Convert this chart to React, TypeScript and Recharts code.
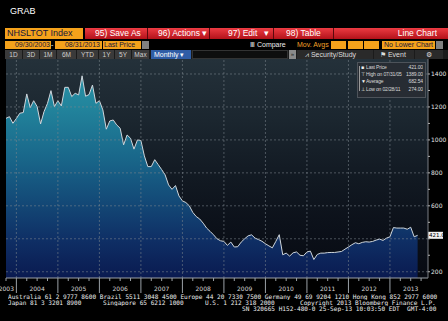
import React from "react";
import { AreaChart, Area, XAxis, YAxis, ReferenceLine } from "recharts";

// NHSLTOT Index, monthly, Sep 2003 .. Aug 2013 (thousands, SAAR)
const startYear = 2003;
const startMonth = 9;
const sales = [
  1131, 1141, 1101, 1130,
  1162, 1166, 1279, 1196, 1238, 1202, 1097, 1172, 1222, 1299, 1202, 1238,
  1206, 1319, 1319, 1263, 1283, 1273, 1389, 1265, 1275, 1333, 1222, 1238,
  1182, 1065, 1115, 1121, 1091, 1071, 970, 1030, 1010, 944, 1000, 996,
  903, 838, 838, 880, 850, 820, 788, 727, 700, 723, 660, 630,
  620, 600, 560, 535, 520, 495, 465, 445, 424, 400, 388, 384,
  360, 380, 350, 352, 380, 400, 418, 424, 404, 395, 385, 370,
  357, 345, 384, 425, 303, 313, 295, 315, 320, 300, 297, 320,
  325, 274, 305, 313, 313, 316, 317, 317, 320, 323, 337, 350,
  364, 376, 370, 378, 382, 380, 384, 392, 398, 390, 404, 412,
  468, 465, 465, 465, 458, 470, 412, 421,
];
const yTicks = [200, 300, 400, 500, 600, 700, 800, 900, 1000, 1100, 1200, 1300, 1400];
const gridValues = [200, 400, 600, 800, 1000, 1200, 1400];
const legendRows = [
  { icon: "■", label: "Last Price", value: "421.00" },
  { icon: "⊤", label: "High on 07/31/05", value: "1389.00" },
  { icon: "▼", label: "Average", value: "682.54" },
  { icon: "⊥", label: "Low on 02/28/11", value: "274.00" },
];
const rangeButtons = [
  { t: "1D", l: 5, w: 17 },
  { t: "3D", l: 23, w: 16 },
  { t: "1M", l: 40, w: 16 },
  { t: "6M", l: 57, w: 19 },
  { t: "YTD", l: 77, w: 21 },
  { t: "1Y", l: 99, w: 15 },
  { t: "5Y", l: 115, w: 16 },
  { t: "Max", l: 132, w: 17 },
];
const footer1 = "Australia 61 2 9777 8600 Brazil 5511 3048 4500 Europe 44 20 7330 7500 Germany 49 69 9204 1210 Hong Kong 852 2977 6000";
const footer2 = [
  { t: "Japan 81 3 3201 8900", l: 8 },
  { t: "Singapore 65 6212 1000", l: 103 },
  { t: "U.S. 1 212 318 2000", l: 205 },
  { t: "Copyright 2013 Bloomberg Finance L.P.", l: 300 },
];
const footer3 = "SN 320665 H152-480-0 25-Sep-13 10:03:50 EDT  GMT-4:00";

const monthOf = (i: number) => ((startMonth - 1 + i) % 12) + 1;
const yearOf = (i: number) => startYear + Math.floor((startMonth - 1 + i) / 12);

const data = sales.map((v, i) => ({ i, month: `${yearOf(i)}-${monthOf(i)}`, v }));
const last = sales[sales.length - 1];
const xTicks = Array.from({ length: 41 }, (_, k) => k * 3);
const yearEnds = data.filter((d) => monthOf(d.i) === 12).map((d) => d.i);

const XTick = (props: any) => {
  const { x, y, payload } = props;
  const i = payload.value as number;
  const m = monthOf(i);
  const label = i === 0 ? String(yearOf(0)) : m === 6 ? String(yearOf(i)) : null;
  return (
    <g>
      <line x1={x} x2={x} y1={y} y2={y + (m === 12 ? 15 : 3)} stroke="#9aa0a6" strokeWidth={1} />
      {label && (
        <text x={i === 0 ? x + 8 : x} y={y + 13} textAnchor={i === 0 ? "end" : "middle"} fontSize={6} fill="#d8d8d8" fontFamily="DejaVu Sans">
          {label}
        </text>
      )}
    </g>
  );
};

const LastLabel = (p: any) => {
  const vb = p.viewBox;
  const x = vb.x + vb.width;
  return (
    <g>
      <rect x={x} y={vb.y - 3.5} width={15} height={7} fill="#f2f2f2" />
      <text x={x + 1} y={vb.y + 2} fontSize={5.5} fill="#000" fontFamily="DejaVu Sans">
        {last.toFixed(2)}
      </text>
    </g>
  );
};

const Abs = ({ l, t, w, h, style, children }: any) => (
  <div style={{ position: "absolute", left: l, top: t, width: w, height: h, boxSizing: "border-box", whiteSpace: "pre", overflow: "hidden", ...style }}>
    {children}
  </div>
);

const orange = "#f5a21b";
const sans = "'Liberation Sans', Arial, sans-serif";
const legendText = { color: "#d8d8d8", fontSize: 5, lineHeight: "7px", letterSpacing: -0.15 };

export default function App() {
  return (
    <div style={{ position: "absolute", left: 0, top: 0, width: 448, height: 321, background: "#000", overflow: "hidden", fontFamily: sans }}>
      <Abs l={10} t={5} w={40} h={12} style={{ color: "#fff", fontSize: 9, lineHeight: "12px" }}>GRAB</Abs>

      {/* row 1 */}
      <Abs l={5} t={28} w={78} h={11} style={{ background: orange, color: "#15153a", fontSize: 9, lineHeight: "11px", paddingLeft: 2 }}>NHSLTOT Index</Abs>
      <Abs l={85} t={28} w={363} h={11} style={{ background: "linear-gradient(#ec3b42,#b3121a)" }} />
      {[147, 209, 273, 333].map((x) => (
        <Abs key={x} l={x} t={28} w={1} h={11} style={{ background: "#5a080c" }} />
      ))}
      {[
        { t: "95) Save As", l: 95 },
        { t: "96) Actions ▾", l: 158 },
        { t: "97) Edit   ▾", l: 228 },
        { t: "98) Table", l: 286 },
      ].map((b) => (
        <Abs key={b.t} l={b.l} t={28} w={60} h={11} style={{ color: "#fff", fontSize: 8.5, lineHeight: "11px" }}>{b.t}</Abs>
      ))}
      <Abs l={380} t={28} w={57} h={11} style={{ color: "#fff", fontSize: 8.5, lineHeight: "11px", textAlign: "right" }}>Line Chart</Abs>

      {/* row 2 */}
      <Abs l={5} t={41} w={46} h={8} style={{ background: orange, color: "#15153a", fontSize: 7, lineHeight: "8px", textAlign: "right", paddingRight: 1 }}>09/30/2003</Abs>
      <Abs l={51} t={41} w={4} h={8} style={{ color: "#fff", fontSize: 7, lineHeight: "8px" }}>-</Abs>
      <Abs l={55} t={41} w={47} h={8} style={{ background: orange, color: "#15153a", fontSize: 7, lineHeight: "8px", textAlign: "right", paddingRight: 2 }}>08/31/2013</Abs>
      <Abs l={103} t={41} w={38} h={8} style={{ background: orange, color: "#15153a", fontSize: 7, lineHeight: "8px", paddingLeft: 1 }}>Last Price</Abs>
      <Abs l={142} t={41} w={7} h={8} style={{ background: "#808080" }} />
      <Abs l={250} t={41} w={40} h={8} style={{ color: "#eee", fontSize: 7, lineHeight: "8px" }}>Ⅲ Compare</Abs>
      <Abs l={297} t={41} w={33} h={8} style={{ color: "#f0a028", fontSize: 7, lineHeight: "8px" }}>Mov. Avgs</Abs>
      {[331, 348, 364].map((x) => (
        <Abs key={x} l={x} t={41} w={16} h={8} style={{ background: orange, borderRight: "1px solid #000" }} />
      ))}
      <Abs l={382} t={41} w={53} h={8} style={{ background: orange, color: "#15153a", fontSize: 7, lineHeight: "8px", paddingLeft: 2 }}>No Lower Chart</Abs>
      <Abs l={436} t={41} w={7} h={8} style={{ background: "#808080" }} />

      {/* row 3 */}
      <Abs l={5} t={50} w={443} h={9} style={{ background: "#1b1b1b" }} />
      {rangeButtons.map((b) => (
        <Abs key={b.t} l={b.l} t={50} w={b.w} h={9} style={{ background: "#3a3a3a", color: "#cfcfcf", fontSize: 6.5, lineHeight: "9px", textAlign: "center" }}>{b.t}</Abs>
      ))}
      <Abs l={151} t={50} w={40} h={9} style={{ background: "#2f5da6", color: "#fff", fontSize: 7, lineHeight: "9px", paddingLeft: 3 }}>Monthly ▾</Abs>
      <Abs l={192} t={50} w={96} h={9} style={{ background: "#0e0e0e", border: "1px solid #333" }} />
      <Abs l={289} t={50} w={7} h={9} style={{ background: "#8a8a8a", color: "#222", fontSize: 6, lineHeight: "9px", textAlign: "center" }}>»</Abs>
      <Abs l={297} t={50} w={76} h={9} style={{ background: "#2a2a2a", color: "#ddd", fontSize: 7, lineHeight: "9px", paddingLeft: 8 }}>⩘ Security/Study</Abs>
      <Abs l={374} t={50} w={40} h={9} style={{ background: "#2a2a2a", color: "#ddd", fontSize: 7, lineHeight: "9px", paddingLeft: 6 }}>⚑ Event</Abs>
      <Abs l={415} t={50} w={28} h={9} style={{ background: "#2a2a2a", color: "#ddd", fontSize: 7, lineHeight: "9px", textAlign: "center" }}>⚙</Abs>

      {/* plot background */}
      <Abs l={6} t={59} w={422} h={219} style={{ background: "linear-gradient(#24313a 0%, #1b262f 28%, #131b24 50%, #0c111a 75%, #070a12 100%)" }} />

      <div style={{ position: "absolute", left: 0, top: 0 }}>
        <AreaChart width={448} height={300} data={data} margin={{ top: 59, right: 0, bottom: 0, left: 6 }}>
          <defs>
            <linearGradient id="nhsFill" gradientUnits="userSpaceOnUse" x1="0" y1="59" x2="0" y2="278">
              <stop offset="0%" stopColor="#2c98aa" />
              <stop offset="22%" stopColor="#22849c" />
              <stop offset="45%" stopColor="#19678a" />
              <stop offset="62%" stopColor="#144e7a" />
              <stop offset="82%" stopColor="#0f3066" />
              <stop offset="100%" stopColor="#0a1a50" />
            </linearGradient>
          </defs>
          <XAxis
            dataKey="i"
            type="number"
            domain={[0, 122]}
            ticks={xTicks}
            interval={0}
            height={22}
            tickSize={0}
            tickMargin={0}
            tickLine={false}
            tick={<XTick />}
            axisLine={{ stroke: "#9aa0a6" }}
          />
          <YAxis
            orientation="right"
            type="number"
            domain={[162, 1491]}
            ticks={yTicks}
            interval={0}
            width={20}
            tickSize={2}
            tickMargin={1}
            tickLine={{ stroke: "#b0b0b0" }}
            axisLine={{ stroke: "#7a7f85" }}
            tick={{ fontSize: 6, fill: "#e6e6e6", fontFamily: "DejaVu Sans" }}
            tickFormatter={(v: number) => (v % 200 === 0 && Math.abs(v - last) > 40 ? String(v) : "")}
          />
          <Area
            type="linear"
            dataKey="v"
            stroke="#cfd6dc"
            strokeWidth={1}
            fill="url(#nhsFill)"
            fillOpacity={1}
            baseValue="dataMin"
            dot={false}
            activeDot={false}
            isAnimationActive={false}
          />
          {gridValues.map((g) => (
            <ReferenceLine key={g} y={g} stroke="#7d868e" strokeOpacity={0.55} strokeDasharray="2 2" />
          ))}
          {yearEnds.map((x) => (
            <ReferenceLine key={x} x={x} stroke="#7d868e" strokeOpacity={0.55} strokeDasharray="2 2" />
          ))}
          <ReferenceLine y={last} stroke="none" label={{ content: <LastLabel /> }} />
        </AreaChart>
      </div>

      {/* legend */}
      <Abs l={357} t={62} w={69} h={36} style={{ background: "#272c33", border: "1px solid #4d535a" }} />
      <Abs l={359} t={66} w={1} h={25} style={{ background: "#9a9a9a" }} />
      {legendRows.map((r, k) => (
        <React.Fragment key={r.label}>
          <Abs l={361} t={64 + k * 7.2} w={5} h={7} style={{ ...legendText, color: "#f0f0f0" }}>{r.icon}</Abs>
          <Abs l={366} t={64 + k * 7.2} w={38} h={7} style={legendText}>{r.label}</Abs>
          <Abs l={403} t={64 + k * 7.2} w={20} h={7} style={{ ...legendText, textAlign: "right" }}>{r.value}</Abs>
        </React.Fragment>
      ))}

      {/* footer */}
      <Abs l={8} t={294} w={440} h={6} style={{ color: "#ececec", fontSize: 6.1, lineHeight: "6px", fontFamily: "'DejaVu Sans Mono', monospace" }}>{footer1}</Abs>
      {footer2.map((f) => (
        <Abs key={f.t} l={f.l} t={300} w={150} h={6} style={{ color: "#ececec", fontSize: 6.1, lineHeight: "6px", fontFamily: "'DejaVu Sans Mono', monospace" }}>{f.t}</Abs>
      ))}
      <Abs l={242} t={306} w={200} h={6} style={{ color: "#ececec", fontSize: 6.1, lineHeight: "6px", fontFamily: "'DejaVu Sans Mono', monospace" }}>{footer3}</Abs>
    </div>
  );
}
